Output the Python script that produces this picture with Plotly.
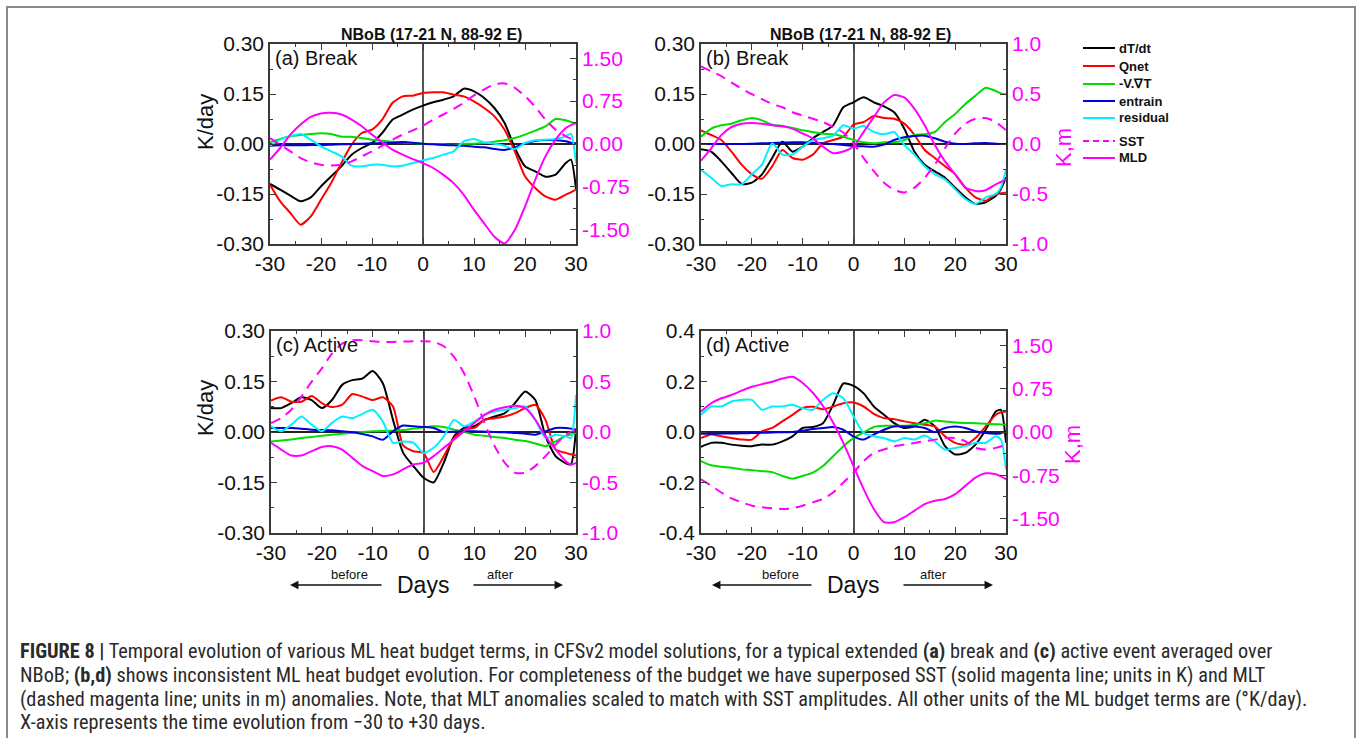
import plotly.graph_objects as go

# Composite day relative to event onset
DAYS = [-30, -28, -26, -24, -22, -20, -18, -16, -14, -12, -10, -8, -6, -4, -2, 0,
        2, 4, 6, 8, 10, 12, 14, 16, 18, 20, 22, 24, 26, 28, 29, 30]

# ---- (a) Break: budget terms in K/day, SST / MLD on the right axis ----
DTDT_A = [-0.120, -0.137, -0.155, -0.172, -0.160, -0.127, -0.097, -0.067, -0.032, -0.012, 0.003, 0.033,
          0.073, 0.088, 0.103, 0.115, 0.125, 0.133, 0.143, 0.166, 0.158, 0.138, 0.108, 0.063,
          -0.012, -0.067, -0.082, -0.098, -0.092, -0.057, -0.047, -0.135]
QNET_A = [-0.122, -0.172, -0.207, -0.242, -0.217, -0.167, -0.117, -0.057, -0.002, 0.033, 0.043, 0.073,
          0.123, 0.143, 0.145, 0.153, 0.155, 0.155, 0.148, 0.143, 0.128, 0.108, 0.083, 0.043,
          -0.022, -0.097, -0.132, -0.157, -0.167, -0.152, -0.145, -0.137]
ADV_A = [0.005, 0.015, 0.023, 0.027, 0.030, 0.032, 0.030, 0.022, 0.022, 0.018, 0.013, 0.010,
         0.007, 0.005, 0.003, 0.001, 0.000, -0.001, -0.002, 0.000, 0.001, 0.003, 0.007, 0.011,
         0.018, 0.028, 0.040, 0.053, 0.075, 0.071, 0.066, 0.061]
ENTR_A = [-0.005, -0.004, -0.004, -0.004, -0.003, -0.003, -0.002, -0.001, 0.000, 0.001, 0.002, 0.003,
          0.004, 0.006, 0.004, 0.001, -0.001, -0.003, -0.004, -0.005, -0.008, -0.010, -0.015, -0.018,
          -0.010, 0.002, 0.009, 0.012, 0.011, 0.008, 0.004, 0.002]
RESID_A = [-0.005, 0.013, 0.023, 0.030, 0.013, -0.007, -0.022, -0.037, -0.065, -0.067, -0.062, -0.062,
           -0.067, -0.065, -0.057, -0.049, -0.042, -0.032, -0.022, 0.008, 0.015, 0.005, 0.001, -0.005,
           -0.015, 0.003, 0.011, 0.013, 0.015, 0.023, 0.031, -0.057]
SST_A = [0.105, -0.012, -0.130, -0.246, -0.322, -0.363, -0.375, -0.363, -0.305, -0.217, -0.129, -0.030,
         0.076, 0.164, 0.240, 0.322, 0.428, 0.516, 0.615, 0.720, 0.850, 0.955, 1.043, 1.060,
         0.984, 0.838, 0.650, 0.428, 0.252, 0.135, 0.095, 0.064]
MLD_A = [-0.275, -0.070, 0.164, 0.340, 0.475, 0.533, 0.545, 0.515, 0.428, 0.310, 0.164, 0.030,
         -0.100, -0.187, -0.264, -0.334, -0.420, -0.540, -0.685, -0.890, -1.154, -1.390, -1.623, -1.740,
         -1.506, -1.096, -0.627, -0.217, 0.076, 0.280, 0.330, 0.370]

# ---- (b) Break ----
DTDT_B = [-0.016, -0.023, -0.052, -0.087, -0.120, -0.116, -0.091, -0.042, 0.007, -0.023, -0.008, 0.017,
          0.036, 0.056, 0.110, 0.125, 0.140, 0.125, 0.113, 0.095, 0.046, -0.023, -0.062, -0.082,
          -0.101, -0.131, -0.160, -0.180, -0.175, -0.155, -0.135, -0.100]
QNET_B = [0.041, 0.027, 0.012, -0.023, -0.062, -0.091, -0.104, -0.067, -0.018, -0.042, -0.047, -0.032,
          0.002, 0.012, 0.022, 0.058, 0.066, 0.084, 0.078, 0.076, 0.061, 0.027, -0.018, -0.042,
          -0.067, -0.091, -0.131, -0.160, -0.170, -0.150, -0.148, -0.146]
ADV_B = [0.022, 0.046, 0.056, 0.061, 0.071, 0.078, 0.071, 0.058, 0.054, 0.048, 0.041, 0.036,
         0.031, 0.029, 0.022, 0.012, 0.005, 0.002, 0.005, 0.005, 0.012, 0.027, 0.029, 0.036,
         0.066, 0.090, 0.120, 0.145, 0.169, 0.159, 0.152, 0.149]
ENTR_B = [0.000, 0.000, 0.000, 0.000, 0.000, 0.001, 0.002, 0.003, 0.004, 0.005, 0.005, 0.004,
          0.002, 0.000, -0.003, -0.006, -0.007, -0.008, -0.002, 0.012, 0.020, 0.024, 0.025, 0.017,
          0.007, 0.001, 0.000, 0.002, 0.003, 0.001, 0.000, 0.000]
RESID_B = [-0.077, -0.101, -0.126, -0.121, -0.121, -0.091, -0.062, 0.002, -0.032, -0.032, -0.008, 0.012,
           0.017, 0.025, 0.056, 0.046, 0.054, 0.036, 0.029, 0.036, -0.003, -0.032, -0.067, -0.091,
           -0.106, -0.136, -0.165, -0.180, -0.160, -0.150, -0.130, -0.077]
SST_B = [0.777, 0.728, 0.679, 0.613, 0.554, 0.498, 0.449, 0.400, 0.367, 0.318, 0.285, 0.252,
         0.220, 0.170, 0.115, 0.007, -0.141, -0.272, -0.387, -0.459, -0.485, -0.436, -0.338, -0.207,
         -0.043, 0.105, 0.203, 0.252, 0.259, 0.220, 0.180, 0.138]
MLD_B = [-0.167, -0.043, 0.089, 0.170, 0.203, 0.210, 0.203, 0.187, 0.177, 0.154, 0.105, 0.056,
         -0.026, -0.092, -0.075, -0.026, 0.121, 0.269, 0.416, 0.489, 0.466, 0.351, 0.187, -0.010,
         -0.174, -0.305, -0.436, -0.469, -0.462, -0.403, -0.380, -0.354]

# ---- (c) Active ----
DTDT_C = [0.071, 0.071, 0.086, 0.103, 0.095, 0.071, 0.095, 0.140, 0.154, 0.159, 0.181, 0.145,
          0.036, -0.062, -0.101, -0.136, -0.150, -0.091, -0.013, 0.012, 0.017, 0.036, 0.046, 0.056,
          0.086, 0.120, 0.095, -0.013, -0.072, -0.093, -0.096, 0.007]
QNET_C = [0.093, 0.103, 0.090, 0.090, 0.107, 0.086, 0.074, 0.081, 0.113, 0.105, 0.095, 0.103,
          0.076, -0.040, -0.057, -0.062, -0.119, -0.072, -0.018, 0.007, 0.012, 0.036, 0.041, 0.046,
          0.056, 0.071, 0.081, 0.036, -0.052, -0.062, -0.066, -0.070]
ADV_C = [-0.028, -0.025, -0.022, -0.018, -0.015, -0.011, -0.008, -0.005, -0.002, 0.000, 0.002, 0.003,
         0.004, 0.006, 0.010, 0.014, 0.017, 0.015, 0.007, 0.000, -0.008, -0.011, -0.015, -0.018,
         -0.023, -0.027, -0.034, -0.042, -0.028, -0.011, -0.007, -0.003]
ENTR_C = [0.012, 0.012, 0.012, 0.010, 0.007, 0.006, 0.005, 0.002, -0.001, -0.006, -0.013, -0.023,
          0.002, 0.019, 0.017, 0.015, 0.012, 0.000, 0.001, 0.002, 0.002, 0.001, 0.000, -0.001,
          -0.003, -0.005, -0.008, 0.002, 0.012, 0.012, 0.010, 0.007]
RESID_C = [0.017, 0.002, 0.022, 0.046, 0.022, 0.002, 0.027, 0.046, 0.041, 0.054, 0.066, 0.031,
           -0.032, -0.028, -0.032, -0.062, -0.047, -0.013, 0.036, 0.017, 0.031, 0.051, 0.061, 0.066,
           0.071, 0.076, 0.036, -0.018, -0.008, -0.013, -0.018, 0.110]
SST_C = [0.089, 0.138, 0.220, 0.351, 0.498, 0.630, 0.777, 0.875, 0.908, 0.908, 0.898, 0.892,
         0.892, 0.895, 0.898, 0.898, 0.892, 0.849, 0.744, 0.580, 0.351, 0.089, -0.141, -0.305,
         -0.403, -0.403, -0.338, -0.239, -0.125, -0.026, 0.000, 0.023]
MLD_C = [-0.108, -0.174, -0.233, -0.233, -0.190, -0.148, -0.141, -0.174, -0.256, -0.338, -0.387, -0.436,
         -0.420, -0.370, -0.321, -0.305, -0.239, -0.157, -0.075, 0.007, 0.089, 0.170, 0.220, 0.246,
         0.259, 0.236, 0.121, -0.043, -0.174, -0.289, -0.321, -0.305]

# ---- (d) Active ----
DTDT_D = [-0.059, -0.043, -0.043, -0.050, -0.054, -0.056, -0.050, -0.050, -0.037, -0.017, 0.016, 0.020,
          0.035, 0.108, 0.192, 0.183, 0.153, 0.101, 0.068, 0.035, 0.016, 0.022, 0.049, 0.022,
          -0.056, -0.089, -0.083, -0.050, 0.009, 0.081, 0.088, -0.043]
QNET_D = [-0.024, -0.010, -0.017, -0.024, -0.030, -0.030, 0.003, 0.016, 0.042, 0.068, 0.095, 0.100,
          0.090, 0.101, 0.114, 0.117, 0.101, 0.072, 0.055, 0.051, 0.042, 0.035, 0.029, 0.022,
          -0.017, -0.043, -0.050, -0.024, 0.022, 0.068, 0.078, 0.081]
ADV_D = [-0.115, -0.132, -0.138, -0.142, -0.148, -0.151, -0.155, -0.159, -0.174, -0.185, -0.174, -0.161,
         -0.135, -0.096, -0.056, -0.024, -0.001, 0.020, 0.025, 0.025, 0.025, 0.029, 0.035, 0.045,
         0.042, 0.038, 0.036, 0.035, 0.033, 0.031, 0.030, 0.029]
ENTR_D = [-0.007, -0.007, -0.006, -0.006, -0.005, -0.004, -0.003, -0.002, -0.001, 0.000, 0.005, 0.012,
          0.016, 0.020, 0.009, -0.018, -0.030, -0.010, 0.009, 0.022, 0.022, 0.022, 0.016, -0.001,
          0.016, 0.022, 0.016, 0.003, -0.004, -0.007, -0.005, 0.003]
RESID_D = [0.068, 0.101, 0.101, 0.121, 0.127, 0.127, 0.088, 0.101, 0.101, 0.108, 0.094, 0.088,
           0.127, 0.153, 0.134, 0.062, -0.004, -0.017, -0.024, -0.037, -0.024, -0.030, -0.014, -0.037,
           -0.070, -0.063, -0.056, -0.043, -0.043, -0.017, -0.030, -0.148]
SST_D = [-0.819, -0.933, -1.048, -1.151, -1.219, -1.277, -1.305, -1.322, -1.334, -1.322, -1.277, -1.219,
         -1.162, -1.048, -0.876, -0.704, -0.504, -0.361, -0.303, -0.246, -0.218, -0.189, -0.160, -0.132,
         -0.103, -0.103, -0.160, -0.275, -0.303, -0.275, -0.250, -0.218]
MLD_D = [0.355, 0.498, 0.584, 0.641, 0.716, 0.784, 0.830, 0.870, 0.927, 0.956, 0.850, 0.680,
         0.450, 0.160, -0.189, -0.590, -0.990, -1.334, -1.563, -1.563, -1.477, -1.362, -1.248, -1.191,
         -1.162, -1.076, -0.933, -0.790, -0.716, -0.733, -0.770, -0.819]

# Legend entries and styling of the seven curves
TERM_NAMES = ["dT/dt", "Qnet", "-V.\u2207T", "entrain", "residual", "SST", "MLD"]
TERM_COLORS = ["#000000", "#ff0000", "#00dd00", "#0000dd", "#00f0ff", "#ff00ff", "#ff00ff"]
TERM_DASH = ["solid", "solid", "solid", "solid", "solid", "dash", "solid"]

PANEL_LABELS = ["(a) Break", "(b) Break", "(c) Active", "(d) Active"]
PANEL_TITLE = "NBoB (17-21 N, 88-92 E)"

# Axis tick definitions
LEFT_TICKS_030 = [-0.30, -0.15, 0.00, 0.15, 0.30]
LEFT_TEXT_030 = ["-0.30", "-0.15", "0.00", "0.15", "0.30"]
LEFT_TICKS_04 = [-0.4, -0.2, 0.0, 0.2, 0.4]
LEFT_TEXT_04 = ["-0.4", "-0.2", "0.0", "0.2", "0.4"]
RIGHT_TICKS_150 = [-1.50, -0.75, 0.00, 0.75, 1.50]
RIGHT_TEXT_150 = ["-1.50", "-0.75", "0.00", "0.75", "1.50"]
RIGHT_TICKS_10 = [-1.0, -0.5, 0.0, 0.5, 1.0]
RIGHT_TEXT_10 = ["-1.0", "-0.5", "0.0", "0.5", "1.0"]
X_TICKS = [-30, -20, -10, 0, 10, 20, 30]
X_TEXT = ["-30", "-20", "-10", "0", "10", "20", "30"]

W, H = 1360, 738


def px(x):
    return x / W


def py(y):
    return 1 - y / H


panels = [
    dict(series=[DTDT_A, QNET_A, ADV_A, ENTR_A, RESID_A, SST_A, MLD_A],
         xdom=(270, 576), ydom=(44, 244), yl=0.30, ltv=LEFT_TICKS_030, ltt=LEFT_TEXT_030, lminor=0.075,
         yr=1.75, rtv=RIGHT_TICKS_150, rtt=RIGHT_TEXT_150, rminor=0.375),
    dict(series=[DTDT_B, QNET_B, ADV_B, ENTR_B, RESID_B, SST_B, MLD_B],
         xdom=(701, 1006), ydom=(44, 244), yl=0.30, ltv=LEFT_TICKS_030, ltt=LEFT_TEXT_030, lminor=0.075,
         yr=1.0, rtv=RIGHT_TICKS_10, rtt=RIGHT_TEXT_10, rminor=0.25),
    dict(series=[DTDT_C, QNET_C, ADV_C, ENTR_C, RESID_C, SST_C, MLD_C],
         xdom=(271, 576), ydom=(331, 533), yl=0.30, ltv=LEFT_TICKS_030, ltt=LEFT_TEXT_030, lminor=0.075,
         yr=1.0, rtv=RIGHT_TICKS_10, rtt=RIGHT_TEXT_10, rminor=0.25),
    dict(series=[DTDT_D, QNET_D, ADV_D, ENTR_D, RESID_D, SST_D, MLD_D],
         xdom=(701, 1006), ydom=(331, 533), yl=0.4, ltv=LEFT_TICKS_04, ltt=LEFT_TEXT_04, lminor=0.1,
         yr=1.75, rtv=RIGHT_TICKS_150, rtt=RIGHT_TEXT_150, rminor=0.375),
]

FONT = "Liberation Sans, Arial, Helvetica, sans-serif"
NARROW = "Roboto Condensed, Liberation Sans Narrow, Arial Narrow, sans-serif"
FRAME = "#3a3a3a"
MAGENTA = "#ff00ff"
TICK_SIZE = 21

fig = go.Figure()
layout = dict(
    template="none",
    width=W, height=H, autosize=False,
    margin=dict(l=0, r=0, t=0, b=0, pad=0),
    paper_bgcolor="white", plot_bgcolor="white",
    showlegend=False, font=dict(family=FONT, color="#111"),
    shapes=[], annotations=[],
)

for i, p in enumerate(panels):
    n = i + 1
    xname = "x" if n == 1 else f"x{n}"
    yl_id = 2 * n - 1
    yr_id = 2 * n
    yl_name = "y" if yl_id == 1 else f"y{yl_id}"
    yr_name = f"y{yr_id}"

    for k in range(5):
        fig.add_trace(go.Scatter(
            x=DAYS, y=p["series"][k], xaxis=xname, yaxis=yl_name, mode="lines",
            line=dict(color=TERM_COLORS[k], width=2, shape="spline", smoothing=0.6),
            name=TERM_NAMES[k], hoverinfo="skip"))
    for k in (5, 6):
        fig.add_trace(go.Scatter(
            x=DAYS, y=p["series"][k], xaxis=xname, yaxis=yr_name, mode="lines",
            line=dict(color=TERM_COLORS[k], width=2, dash="10px,7px" if TERM_DASH[k] == "dash" else "solid",
                      shape="spline", smoothing=0.6),
            name=TERM_NAMES[k], hoverinfo="skip"))

    x0, x1 = p["xdom"]
    yt, yb = p["ydom"]
    layout["xaxis" if n == 1 else f"xaxis{n}"] = dict(
        domain=[px(x0), px(x1)], anchor=yl_name, range=[-30, 30], automargin=False,
        showline=True, linecolor=FRAME, linewidth=1.5, mirror="ticks",
        ticks="inside", ticklen=6, tickwidth=1.2, tickcolor=FRAME,
        tickvals=X_TICKS, ticktext=X_TEXT, tickfont=dict(size=TICK_SIZE, color="#111"),
        minor=dict(tickmode="linear", tick0=-25, dtick=10, ticks="inside", ticklen=3, tickcolor=FRAME),
        showgrid=False, zeroline=True, zerolinecolor="#555", zerolinewidth=1.5,
    )
    layout["yaxis" if yl_id == 1 else f"yaxis{yl_id}"] = dict(
        domain=[py(yb), py(yt)], anchor=xname, range=[-p["yl"], p["yl"]], automargin=False,
        showline=True, linecolor=FRAME, linewidth=1.5,
        ticks="inside", ticklen=6, tickwidth=1.2, tickcolor=FRAME,
        tickvals=p["ltv"], ticktext=p["ltt"], tickfont=dict(size=TICK_SIZE, color="#111"),
        minor=dict(tickmode="linear", tick0=0, dtick=p["lminor"], ticks="inside", ticklen=3, tickcolor=FRAME),
        showgrid=False, zeroline=True, zerolinecolor="#222", zerolinewidth=1.5,
    )
    layout[f"yaxis{yr_id}"] = dict(
        domain=[py(yb), py(yt)], anchor=xname, overlaying=yl_name, side="right",
        range=[-p["yr"], p["yr"]], automargin=False,
        showline=True, linecolor=FRAME, linewidth=1.5,
        ticks="inside", ticklen=6, tickwidth=1.2, tickcolor=FRAME,
        tickvals=p["rtv"], ticktext=p["rtt"], tickfont=dict(size=TICK_SIZE, color=MAGENTA),
        minor=dict(tickmode="linear", tick0=0, dtick=p["rminor"], ticks="inside", ticklen=3, tickcolor=FRAME),
        showgrid=False, zeroline=False,
    )

    # panel label inside the top-left corner
    layout["annotations"].append(dict(
        text=PANEL_LABELS[i], xref="paper", yref="paper", x=px(x0 + 3), y=py(yt + 14),
        xanchor="left", yanchor="middle", showarrow=False, font=dict(size=20, color="#111")))

# titles over the top row
for cx in (431, 860):
    layout["annotations"].append(dict(
        text=f"<b>{PANEL_TITLE}</b>", xref="paper", yref="paper", x=px(cx), y=py(34),
        xanchor="center", yanchor="middle", showarrow=False, font=dict(size=16, color="#111")))

# axis titles
for cy in (122, 408):
    layout["annotations"].append(dict(
        text="K/day", xref="paper", yref="paper", x=px(205), y=py(cy), textangle=-90,
        xanchor="center", yanchor="middle", showarrow=False, font=dict(size=22, color="#111")))
for cx, cy in ((1063, 148), (1072, 445)):
    layout["annotations"].append(dict(
        text="K,m", xref="paper", yref="paper", x=px(cx), y=py(cy), textangle=-90,
        xanchor="center", yanchor="middle", showarrow=False, font=dict(size=22, color=MAGENTA)))

# "Days" with before/after arrows under the bottom row
for dx, bx, ax0, ax1, rx0, rx1, fx in ((423, 350, 290, 383, 472, 563, 500),
                                       (853, 780, 712, 813, 902, 993, 933)):
    layout["annotations"].append(dict(
        text="Days", xref="paper", yref="paper", x=px(dx), y=py(585),
        xanchor="center", yanchor="middle", showarrow=False, font=dict(size=23, color="#111")))
    layout["annotations"].append(dict(
        text="before", xref="paper", yref="paper", x=px(bx), y=py(574),
        xanchor="center", yanchor="middle", showarrow=False, font=dict(size=13, color="#111")))
    layout["annotations"].append(dict(
        text="after", xref="paper", yref="paper", x=px(fx), y=py(574),
        xanchor="center", yanchor="middle", showarrow=False, font=dict(size=13, color="#111")))
    layout["annotations"].append(dict(
        text="", xref="paper", yref="paper", x=px(ax0), y=py(585),
        axref="pixel", ayref="pixel", ax=ax1 - ax0, ay=0, showarrow=True,
        arrowhead=2, arrowsize=1.3, arrowwidth=1.3, arrowcolor="#111"))
    layout["annotations"].append(dict(
        text="", xref="paper", yref="paper", x=px(rx1), y=py(585),
        axref="pixel", ayref="pixel", ax=rx0 - rx1, ay=0, showarrow=True,
        arrowhead=2, arrowsize=1.3, arrowwidth=1.3, arrowcolor="#111"))

# legend block on the right
LEG_Y = [48, 66, 84, 101, 118, 141, 158]
for name, color, dash, ly in zip(TERM_NAMES, TERM_COLORS, TERM_DASH, LEG_Y):
    layout["shapes"].append(dict(
        type="line", xref="paper", yref="paper", x0=px(1083), x1=px(1115), y0=py(ly), y1=py(ly),
        line=dict(color=color, width=2, dash="6px,4px" if dash == "dash" else "solid")))
    layout["annotations"].append(dict(
        text=f"<b>{name}</b>", xref="paper", yref="paper", x=px(1117), y=py(ly),
        xanchor="left", yanchor="middle", showarrow=False, font=dict(size=13, color="#111")))

# outer frame
layout["shapes"].append(dict(
    type="rect", xref="paper", yref="paper", x0=px(7), x1=px(1355), y0=-0.02, y1=py(7),
    line=dict(color="#8a8a8a", width=2), fillcolor="rgba(0,0,0,0)"))

# caption
CAPTION = [
    "<b>FIGURE 8 |</b> Temporal evolution of various ML heat budget terms, in CFSv2 model solutions, "
    "for a typical extended <b>(a)</b> break and <b>(c)</b> active event averaged over",
    "NBoB; <b>(b,d)</b> shows inconsistent ML heat budget evolution. For completeness of the budget we "
    "have superposed SST (solid magenta line; units in K) and MLT",
    "(dashed magenta line; units in m) anomalies. Note, that MLT anomalies scaled to match with SST "
    "amplitudes. All other units of the ML budget terms are (\u00b0K/day).",
    "X-axis represents the time evolution from \u221230 to +30 days.",
]
for line, cy in zip(CAPTION, (651, 675, 699, 722)):
    layout["annotations"].append(dict(
        text=line, xref="paper", yref="paper", x=px(18), y=py(cy),
        xanchor="left", yanchor="middle", showarrow=False, font=dict(family=NARROW, size=20.3, color="#2a2a2a")))

fig.update_layout(**layout)
fig.write_html("out.html")
